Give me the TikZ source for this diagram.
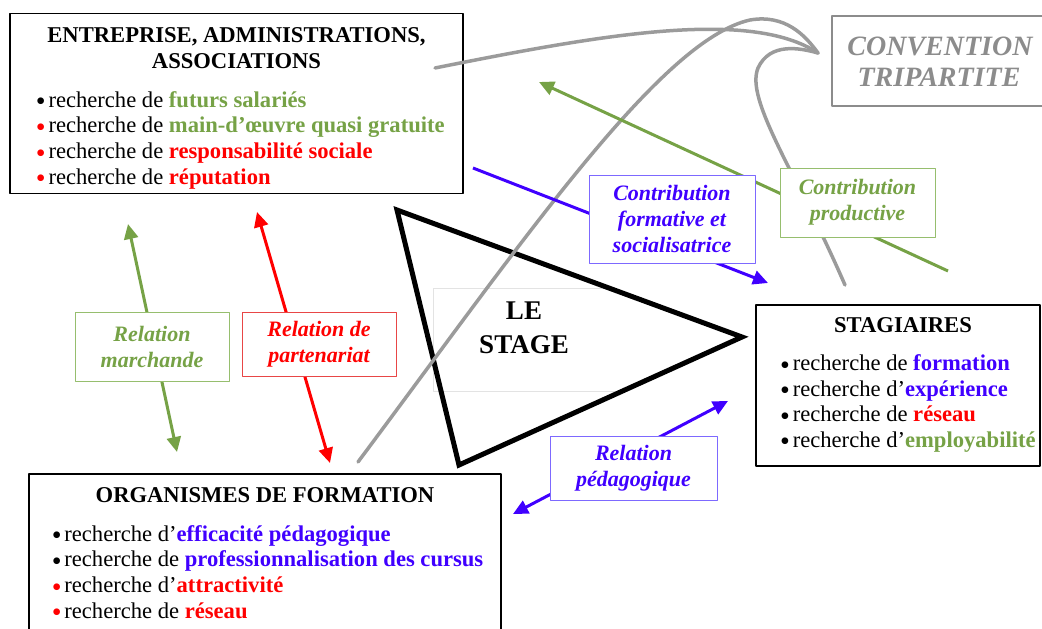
\documentclass[tikz,border=0pt]{standalone}
\usepackage{fontspec}
\setmainfont{Liberation Serif}
\usetikzlibrary{arrows.meta}
\definecolor{vertfonce}{RGB}{118,162,70}
\definecolor{vertcadre}{RGB}{150,190,110}
\definecolor{bleuvif}{RGB}{64,0,255}
\definecolor{bleucadre}{RGB}{125,105,255}
\definecolor{rougecadre}{RGB}{232,70,70}
\definecolor{grisconv}{RGB}{140,140,140}
\definecolor{griscourbe}{RGB}{155,155,155}
\newcommand{\puce}[1]{\smash{\raisebox{-3.7pt}{\fontsize{28}{28}\selectfont\textcolor{#1}{\char"2022}}}\kern2.8pt}
\newcommand{\mot}[2]{\textbf{\textcolor{#1}{#2}}}

\begin{document}
\begin{tikzpicture}[line cap=round,line join=round,x=1pt,y=-1pt,
  texte/.style={anchor=base west,inner sep=0pt,text height=15pt,text depth=4pt,
    font=\fontsize{22.6}{26}\selectfont},
  titre/.style={anchor=base,inner sep=0pt,text height=15pt,text depth=4pt,
    font=\fontsize{22.6}{26}\selectfont\bfseries},
  cadre/.style={draw=black,line width=1.6pt,inner sep=0pt},
  etiquette/.style={fill=white,line width=1pt,inner sep=0pt,align=center,
    font=\fontsize{22}{26}\selectfont\bfseries\itshape},
  pointe/.style={-{Triangle[length=15pt,width=14pt]}},
  doublepointe/.style={{Triangle[length=15pt,width=14pt]}-{Triangle[length=15pt,width=14pt]}},
  fleche/.style={line width=3pt,line cap=butt},
  lien/.style={line width=3.5pt,griscourbe}]
\useasboundingbox (0,0) rectangle (1042,629);

% les trois acteurs
\node[cadre,minimum width=453,minimum height=180] (entreprise) at (236.5,103.5) {};
\node[cadre,minimum width=284,minimum height=161] (stagiaires) at (898,385.5) {};
\node[cadre,minimum width=472,minimum height=170] (organismes) at (265,559) {};
\node[draw=grisconv,line width=1.2pt,minimum width=214,minimum height=90] (convention) at (939,61) {};

% le stage
\draw[gray!22,line width=0.6pt] (609,288) -- (433,288) -- (433,391) -- (620,391);
\coordinate (stA) at (397,210);
\coordinate (stB) at (742,337);
\coordinate (stC) at (459,465);
\draw[line width=5pt,line join=miter] (stA) -- (stB) -- (stC) -- cycle;
\node[inner sep=0pt,anchor=base,font=\fontsize{27}{34}\selectfont\bfseries] (stageLE) at (524,319) {LE};
\node[inner sep=0pt,anchor=base,font=\fontsize{27}{34}\selectfont\bfseries] (stageTXT) at (524,353) {STAGE};

% convention tripartite
\coordinate (convPointe) at (818,53);
\coordinate (lienEnt) at (435,68);
\coordinate (lienOrg) at (358,462);
\coordinate (lienStag) at (845,285);
\draw[lien] (lienEnt) .. controls (600,35) and (750,8) .. (convPointe);
\draw[lien] (lienOrg) .. controls (520,245) and (660,40) .. (750,20) .. controls (785,14) and (805,35) .. (convPointe);
\draw[lien] (lienStag) .. controls (795,170) and (745,100) .. (758,68) .. controls (770,42) and (800,48) .. (convPointe);
\node[inner sep=0pt,anchor=base,text=grisconv,font=\fontsize{28}{31}\selectfont\bfseries\itshape] (convL1) at (940,55) {CONVENTION};
\node[inner sep=0pt,anchor=base,text=grisconv,font=\fontsize{28}{31}\selectfont\bfseries\itshape] (convL2) at (939,86) {TRIPARTITE};

% relations
\coordinate (marchHaut) at (128,224);
\coordinate (marchBas) at (177,452);
\coordinate (partHaut) at (257,212);
\coordinate (partBas) at (330,463);
\coordinate (formDepart) at (473,168);
\coordinate (formFin) at (768,283);
\coordinate (prodDepart) at (948,271);
\coordinate (prodFin) at (539,82);
\coordinate (pedaBas) at (513,514);
\coordinate (pedaHaut) at (728,401);
\draw[fleche,doublepointe,vertfonce] (marchHaut) -- (marchBas);
\draw[fleche,doublepointe,red] (partHaut) -- (partBas);
\draw[fleche,pointe,bleuvif] (formDepart) -- (formFin);
\draw[fleche,pointe,vertfonce] (prodDepart) -- (prodFin);
\draw[fleche,doublepointe,bleuvif] (pedaBas) -- (pedaHaut);

\node[etiquette,draw=vertcadre,text=vertfonce,minimum width=154,minimum height=69] (relMarch) at (152,346.5) {Relation\\marchande};
\node[etiquette,draw=rougecadre,text=red,minimum width=154,minimum height=64] (relPart) at (319,344) {Relation de\\partenariat};
\node[etiquette,draw=bleucadre,text=bleuvif,minimum width=166,minimum height=88] (contribForm) at (672,219) {Contribution\\formative et\\socialisatrice};
\node[etiquette,draw=vertcadre,text=vertfonce,minimum width=155,minimum height=69] (contribProd) at (857.5,202.5) {Contribution\\productive};
\node[etiquette,draw=bleucadre,text=bleuvif,minimum width=167,minimum height=64] (relPeda) at (633.5,468) {Relation\\pédagogique};

% textes des acteurs
\node[titre] (entT1) at (236.5,42) {ENTREPRISE, ADMINISTRATIONS,};
\node[titre] (entT2) at (236.5,68) {ASSOCIATIONS};
\node[texte] (ent1) at (35.7,107) {\puce{black}recherche de \mot{vertfonce}{futurs salariés}};
\node[texte] (ent2) at (35.7,132.7) {\puce{red}recherche de \mot{vertfonce}{main-d’œuvre quasi gratuite}};
\node[texte] (ent3) at (35.7,158.4) {\puce{red}recherche de \mot{red}{responsabilité sociale}};
\node[texte] (ent4) at (35.7,184.1) {\puce{red}recherche de \mot{red}{réputation}};

\node[titre] (stagT) at (903,332) {STAGIAIRES};
\node[texte] (stag1) at (780,370.6) {\puce{black}recherche de \mot{bleuvif}{formation}};
\node[texte] (stag2) at (780,396.1) {\puce{black}recherche d’\mot{bleuvif}{expérience}};
\node[texte] (stag3) at (780,421.6) {\puce{black}recherche de \mot{red}{réseau}};
\node[texte] (stag4) at (780,447.1) {\puce{black}recherche d’\mot{vertfonce}{employabilité}};

\node[titre] (orgT) at (265,502) {ORGANISMES DE FORMATION};
\node[texte] (org1) at (51.6,541) {\puce{black}recherche d’\mot{bleuvif}{efficacité pédagogique}};
\node[texte] (org2) at (51.6,566.7) {\puce{black}recherche de \mot{bleuvif}{professionnalisation des cursus}};
\node[texte] (org3) at (51.6,592.4) {\puce{red}recherche d’\mot{red}{attractivité}};
\node[texte] (org4) at (51.6,618.1) {\puce{red}recherche de \mot{red}{réseau}};
\end{tikzpicture}
\end{document}
